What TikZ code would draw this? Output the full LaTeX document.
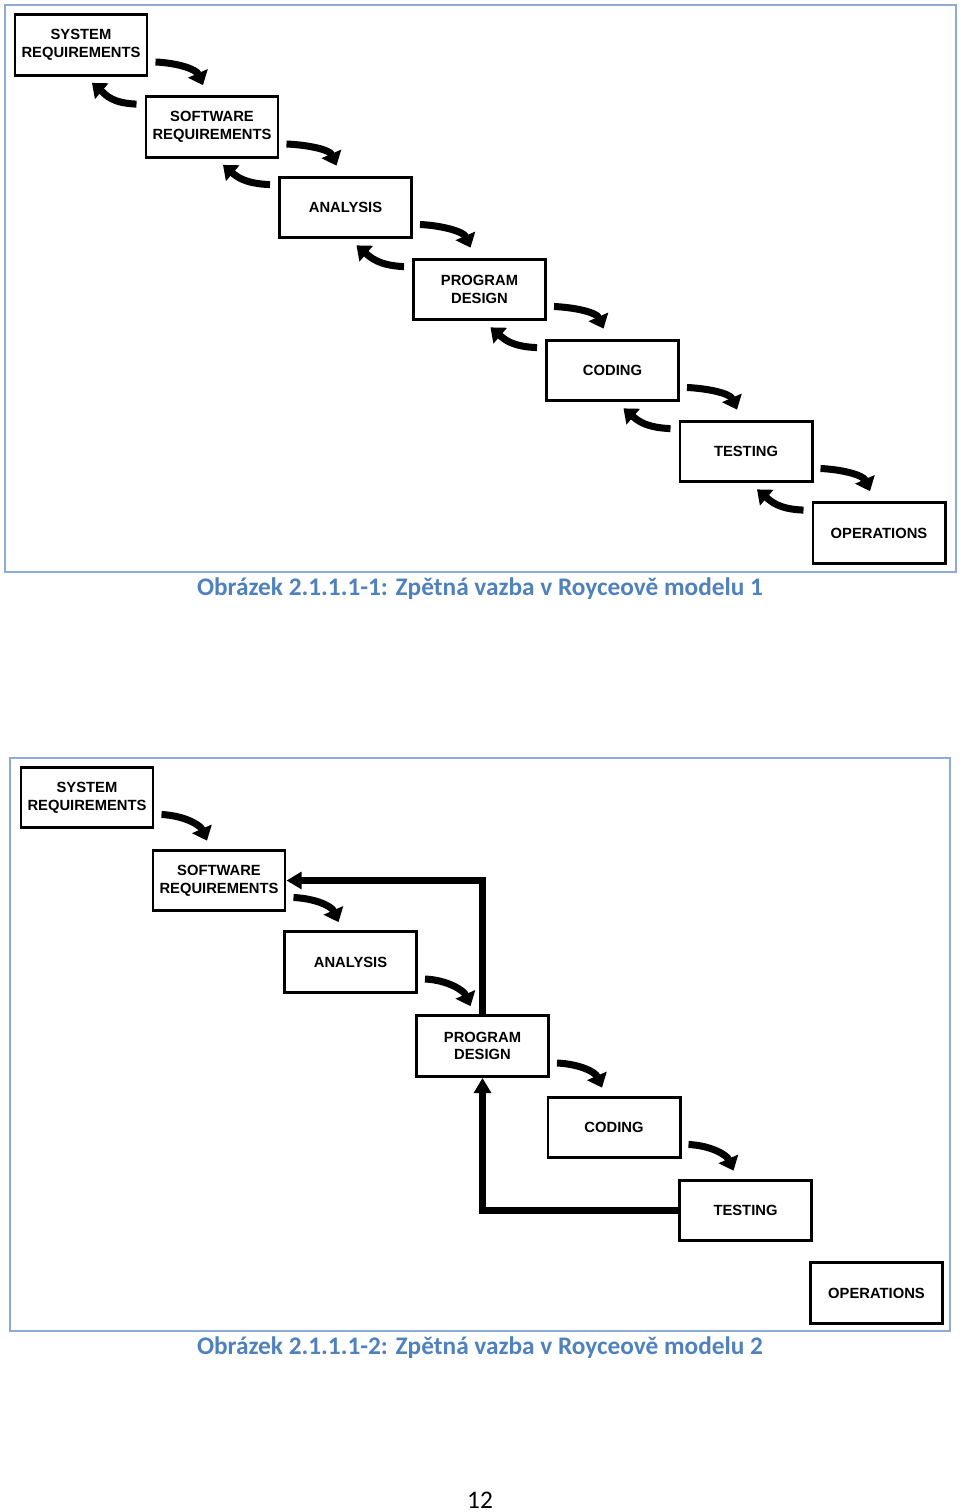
\documentclass[tikz,border=0pt]{standalone}
\usepackage{fontspec}
\setmainfont{Carlito}
\newfontfamily\boxfont{Liberation Sans}
\usetikzlibrary{arrows.meta}
\definecolor{framecol}{RGB}{142,170,214}
\definecolor{captioncol}{RGB}{79,129,189}

\begin{document}
\begin{tikzpicture}[x=0.025cm, y=-0.025cm, inner sep=3pt]
		\tikzstyle{box}=[draw, line width=2.1pt, minimum width=3.3cm, minimum height=1.52cm, align=center, font=\boxfont\bfseries\fontsize{10.5}{12.5}\selectfont]
		\tikzstyle{fwd}=[line width=5pt, -{Triangle[length=0.32cm, width=0.52cm]}]
		\tikzstyle{back}=[line width=5pt, -{Triangle[length=0.32cm, width=0.5cm]}]
		\tikzstyle{feedback}=[line width=5pt, -{Triangle[length=0.38cm, width=0.42cm]}]
		\tikzstyle{caption}=[font=\bfseries\fontsize{18}{22}\selectfont, text=captioncol]
		\useasboundingbox (0,0) rectangle (960,1512);

			% Royce model 1
			\draw[framecol, line width=1.4pt] (5,5) rectangle (956,572);
			\node[box] (sysreq) at (81,45) {SYSTEM\\REQUIREMENTS};
			\node[box] (swreq) at (212,127) {SOFTWARE\\REQUIREMENTS};
			\node[box] (analysis) at (345.5,207.5) {ANALYSIS};
			\node[box] (design) at (479.5,289.5) {PROGRAM\\DESIGN};
			\node[box] (coding) at (612.5,370.5) {CODING};
			\node[box] (testing) at (746,451.5) {TESTING};
			\node[box] (operations) at (879,533) {OPERATIONS};

			\draw[fwd] ([shift={(7,17)}]sysreq.east) .. controls +(22,1) and +(-7,-16) .. ([shift={(-9,-10)}]swreq.north);
			\draw[fwd] ([shift={(7,17)}]swreq.east) .. controls +(22,1) and +(-7,-16) .. ([shift={(-9,-10)}]analysis.north);
			\draw[fwd] ([shift={(7,17)}]analysis.east) .. controls +(22,1) and +(-7,-16) .. ([shift={(-9,-10)}]design.north);
			\draw[fwd] ([shift={(7,17)}]design.east) .. controls +(22,1) and +(-7,-16) .. ([shift={(-9,-10)}]coding.north);
			\draw[fwd] ([shift={(7,17)}]coding.east) .. controls +(22,1) and +(-7,-16) .. ([shift={(-9,-10)}]testing.north);
			\draw[fwd] ([shift={(7,17)}]testing.east) .. controls +(22,1) and +(-7,-16) .. ([shift={(-9,-10)}]operations.north);

			\draw[back] ([shift={(-8,9)}]swreq.north west) .. controls +(-25,-1) and +(14,12) .. ([shift={(11,6)}]sysreq.south);
			\draw[back] ([shift={(-8,9)}]analysis.north west) .. controls +(-25,-1) and +(14,12) .. ([shift={(11,6)}]swreq.south);
			\draw[back] ([shift={(-8,9)}]design.north west) .. controls +(-25,-1) and +(14,12) .. ([shift={(11,6)}]analysis.south);
			\draw[back] ([shift={(-8,9)}]coding.north west) .. controls +(-25,-1) and +(14,12) .. ([shift={(11,6)}]design.south);
			\draw[back] ([shift={(-8,9)}]testing.north west) .. controls +(-25,-1) and +(14,12) .. ([shift={(11,6)}]coding.south);
			\draw[back] ([shift={(-8,9)}]operations.north west) .. controls +(-25,-1) and +(14,12) .. ([shift={(11,6)}]testing.south);

			\node[caption] (caption1) at (480,589) {Obrázek 2.1.1.1-1: Zpětná vazba v Royceově modelu 1};

			% Royce model 2
			\draw[framecol, line width=1.4pt] (10,758) rectangle (950,1331);
			\node[box] (sysreq2) at (87,797.5) {SYSTEM\\REQUIREMENTS};
			\node[box] (swreq2) at (219,880.5) {SOFTWARE\\REQUIREMENTS};
			\node[box] (analysis2) at (350.5,962) {ANALYSIS};
			\node[box] (design2) at (482.5,1046) {PROGRAM\\DESIGN};
			\node[box] (coding2) at (614,1127.5) {CODING};
			\node[box] (testing2) at (745.5,1210.5) {TESTING};
			\node[box] (operations2) at (876.5,1293) {OPERATIONS};

			\draw[fwd] ([shift={(7,17)}]sysreq2.east) .. controls +(22,1) and +(-7,-16) .. ([shift={(-12,-8)}]swreq2.north);
			\draw[fwd] ([shift={(7,17)}]swreq2.east) .. controls +(22,1) and +(-7,-16) .. ([shift={(-12,-8)}]analysis2.north);
			\draw[fwd] ([shift={(7,17)}]analysis2.east) .. controls +(22,1) and +(-7,-16) .. ([shift={(-12,-8)}]design2.north);
			\draw[fwd] ([shift={(7,17)}]design2.east) .. controls +(22,1) and +(-7,-16) .. ([shift={(-12,-8)}]coding2.north);
			\draw[fwd] ([shift={(7,17)}]coding2.east) .. controls +(22,1) and +(-7,-16) .. ([shift={(-12,-8)}]testing2.north);

			\draw[feedback] (design2.north) |- (swreq2.east);
			\draw[feedback] (testing2.west) -| (design2.south);

			\node[caption] (caption2) at (480,1348) {Obrázek 2.1.1.1-2: Zpětná vazba v Royceově modelu 2};
			\node[font=\fontsize{18}{22}\selectfont] (pagenum) at (480,1500) {12};
		\end{tikzpicture}
\end{document}
